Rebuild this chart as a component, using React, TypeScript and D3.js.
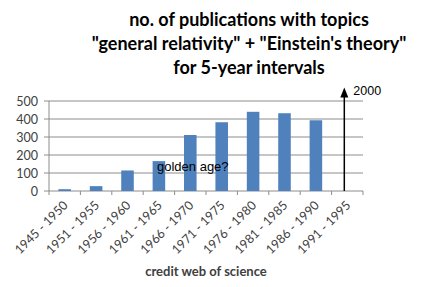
import * as d3 from 'd3';
import React, { useEffect, useRef } from 'react';

const intervals = [
  '1945 - 1950', '1951 - 1955', '1956 - 1960', '1961 - 1965', '1966 - 1970',
  '1971 - 1975', '1976 - 1980', '1981 - 1985', '1986 - 1990', '1991 - 1995'
];
const publications = [10, 27, 114, 166, 311, 382, 440, 432, 393, 0];
const yTicks = [0, 100, 200, 300, 400, 500];
const titleLines = [
  'no. of publications with topics',
  '"general relativity" + "Einstein\'s theory"',
  'for 5-year intervals'
];

export default function App() {
  const ref = useRef<SVGSVGElement>(null);

  useEffect(() => {
    const svg = d3.select(ref.current);
    svg.selectAll('*').remove();

    const left = 49, right = 363, top = 101, bottom = 191;
    const x = d3.scaleBand().domain(intervals).range([left, right]).paddingInner(0.6).paddingOuter(0.3);
    const xb = d3.scaleBand().domain(intervals).range([left, right]);
    const y = d3.scaleLinear().domain([0, 500]).range([bottom, top]);

    // title
    svg.append('g')
      .selectAll('text')
      .data(titleLines)
      .enter()
      .append('text')
      .attr('x', 249)
      .attr('y', (d, i) => 26 + i * 24)
      .attr('text-anchor', 'middle')
      .attr('font-family', 'Lato, sans-serif')
      .attr('font-weight', 'bold')
      .attr('font-size', 18)
      .attr('fill', '#000')
      .text(d => d);

    // gridlines
    svg.append('g')
      .selectAll('line')
      .data(yTicks)
      .enter()
      .append('line')
      .attr('x1', left - 5)
      .attr('x2', right)
      .attr('y1', d => y(d))
      .attr('y2', d => y(d))
      .attr('stroke', '#8c8c8c')
      .attr('stroke-width', 1);

    svg.append('line')
      .attr('x1', left).attr('x2', left)
      .attr('y1', top).attr('y2', bottom)
      .attr('stroke', '#8c8c8c');

    // y labels
    svg.append('g')
      .selectAll('text')
      .data(yTicks)
      .enter()
      .append('text')
      .attr('x', 38)
      .attr('y', d => y(d) + 4.5)
      .attr('text-anchor', 'end')
      .attr('font-family', 'Lato, sans-serif')
      .attr('font-size', 12.5)
      .attr('fill', '#404040')
      .text(d => d);

    // x ticks
    svg.append('g')
      .selectAll('line')
      .data(intervals.concat(['end']))
      .enter()
      .append('line')
      .attr('x1', (d, i) => left + i * xb.bandwidth())
      .attr('x2', (d, i) => left + i * xb.bandwidth())
      .attr('y1', bottom)
      .attr('y2', bottom + 4)
      .attr('stroke', '#8c8c8c');

    // bars
    svg.append('g')
      .selectAll('rect')
      .data(publications)
      .enter()
      .append('rect')
      .attr('x', (d, i) => x(intervals[i]) as number)
      .attr('width', x.bandwidth())
      .attr('y', d => y(d))
      .attr('height', d => bottom - y(d))
      .attr('fill', '#4f81bd');

    // x labels
    svg.append('g')
      .selectAll('text')
      .data(intervals)
      .enter()
      .append('text')
      .attr('transform', d => 'translate(' + ((xb(d) as number) + xb.bandwidth() / 2 + 4) + ',' + (bottom + 15) + ') rotate(-45)')
      .attr('text-anchor', 'end')
      .attr('font-family', 'Lato, sans-serif')
      .attr('font-size', 12.5)
      .attr('fill', '#404040')
      .text(d => d);

    svg.append('text')
      .attr('x', 206)
      .attr('y', 276)
      .attr('text-anchor', 'middle')
      .attr('font-family', 'Lato, sans-serif')
      .attr('font-weight', 'bold')
      .attr('font-size', 13)
      .attr('fill', '#404040')
      .text('credit web of science');

    // annotations
    svg.append('text')
      .attr('x', 157)
      .attr('y', 171)
      .attr('font-family', 'Liberation Sans, Arial, sans-serif')
      .attr('font-size', 13)
      .attr('fill', '#000')
      .text('golden age?');

    const ax = (xb('1991 - 1995') as number) + xb.bandwidth() / 2 - 3;
    svg.append('line')
      .attr('x1', ax).attr('x2', ax)
      .attr('y1', bottom).attr('y2', y(540))
      .attr('stroke', '#000')
      .attr('stroke-width', 1.5);
    svg.append('path')
      .attr('d', d3.line()([[ax - 4, y(520)], [ax, y(575)], [ax + 4, y(520)]]) + 'Z')
      .attr('fill', '#000');
    svg.append('text')
      .attr('x', ax + 9)
      .attr('y', 95)
      .attr('font-family', 'Liberation Sans, Arial, sans-serif')
      .attr('font-size', 12.5)
      .attr('fill', '#000')
      .text('2000');
  }, []);

  return (
    <svg ref={ref} width={421} height={287} style={{ position: 'absolute', left: 0, top: 0, background: '#fff' }} />
  );
}
